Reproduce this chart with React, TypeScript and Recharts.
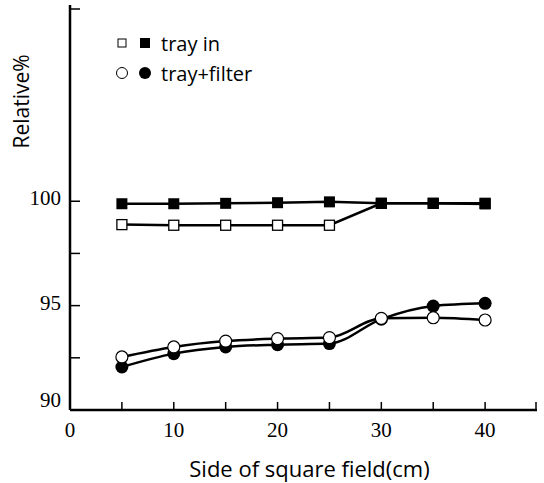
import React from "react"
import { LineChart, Line, XAxis, YAxis } from "recharts"

const sides = [5, 10, 15, 20, 25, 30, 35, 40]
const trayInOpen = [98.88, 98.85, 98.85, 98.85, 98.85, 99.9, 99.9, 99.9]
const trayInFilled = [99.88, 99.88, 99.9, 99.93, 99.97, 99.9, 99.9, 99.87]
const filterOpen = [92.54, 93.02, 93.3, 93.42, 93.47, 94.39, 94.42, 94.31]
const filterFilled = [92.06, 92.7, 93.02, 93.13, 93.18, 94.35, 94.98, 95.11]

const xTicks = [0, 5, 10, 15, 20, 25, 30, 35, 40, 45]
const xLabels = [0, 10, 20, 30, 40]
const yTicks = [90, 92.5, 95, 97.5, 100, 109.4]
const yLabels = [90, 95, 100]

const legendItems = ["tray in", "tray+filter"]

const data = sides.map((side, i) => ({
  side,
  trayInOpen: trayInOpen[i],
  trayInFilled: trayInFilled[i],
  filterOpen: filterOpen[i],
  filterFilled: filterFilled[i],
}))

const SANS = "'Open Sans', sans-serif"
const SERIF = "'Liberation Serif', serif"

function XTick({ x, y, payload }: any) {
  const v = payload.value
  return (
    <g>
      {v !== 0 && <line x1={x} y1={y} x2={x} y2={y - 8} stroke="#000" strokeWidth={1.5} />}
      {xLabels.includes(v) && (
        <text x={x} y={y + 27} textAnchor="middle" fontFamily={SERIF} fontSize={21} fill="#000">
          {v}
        </text>
      )}
    </g>
  )
}

function YTick({ x, y, payload }: any) {
  const v = payload.value
  return (
    <g>
      {v !== 90 && <line x1={x} y1={y} x2={x + 10} y2={y} stroke="#000" strokeWidth={1.5} />}
      {yLabels.includes(v) && (
        <text x={x - 9} y={v === 90 ? y - 3 : y + 4} textAnchor="end" fontFamily={SERIF} fontSize={21} fill="#000">
          {v}
        </text>
      )}
    </g>
  )
}

const square = (filled: boolean) => (props: any) => {
  const { cx, cy, index } = props
  const s = filled ? 11 : 10
  return (
    <rect
      key={`sq-${filled}-${index}`}
      x={cx - s / 2}
      y={cy - s / 2}
      width={s}
      height={s}
      fill={filled ? "#000" : "#fff"}
      stroke="#000"
      strokeWidth={filled ? 0 : 1.3}
    />
  )
}

const circle = (filled: boolean) => (props: any) => {
  const { cx, cy, index } = props
  return (
    <circle
      key={`ci-${filled}-${index}`}
      cx={cx}
      cy={cy}
      r={filled ? 6.5 : 6}
      fill={filled ? "#000" : "#fff"}
      stroke="#000"
      strokeWidth={filled ? 0 : 1.2}
    />
  )
}

// legend drawn as an overlay so it takes no room from the plot
function LegendBox() {
  const row = (icons: React.ReactNode, label: string, top: number) => (
    <div style={{ position: "absolute", left: 112, top, display: "flex", alignItems: "center", height: 30 }}>
      <svg width={46} height={20}>{icons}</svg>
      <span style={{ fontFamily: SANS, fontSize: 20, color: "#000", marginLeft: 3, whiteSpace: "pre" }}>{label}</span>
    </div>
  )
  return (
    <>
      {row(
        <>
          <rect x={6} y={6} width={8} height={8} fill="#fff" stroke="#000" strokeWidth={1} />
          <rect x={28} y={5} width={10} height={10} fill="#000" />
        </>,
        legendItems[0],
        28
      )}
      {row(
        <>
          <circle cx={10} cy={10} r={5.5} fill="#fff" stroke="#000" strokeWidth={1} />
          <circle cx={33} cy={10} r={6} fill="#000" />
        </>,
        legendItems[1],
        58
      )}
    </>
  )
}

export default function App() {
  return (
    <div style={{ position: "absolute", left: 0, top: 0, width: 544, height: 483, background: "#fff" }}>
      <LineChart width={544} height={483} data={data} margin={{ top: 5, right: 7, bottom: 0, left: 0 }}>
        <XAxis
          dataKey="side"
          type="number"
          domain={[0, 45]}
          ticks={xTicks}
          tick={<XTick />}
          tickLine={false}
          tickSize={0}
          tickMargin={0}
          height={73}
          axisLine={{ stroke: "#000", strokeWidth: 2.5 }}
          label={{ value: "Side of square field(cm)", position: "insideBottom", offset: 6, dx: 6, fontFamily: SANS, fontSize: 22, fill: "#000" }}
        />
        <YAxis
          type="number"
          domain={[90, 109.4]}
          ticks={yTicks}
          tick={<YTick />}
          tickLine={false}
          tickSize={0}
          tickMargin={0}
          width={70}
          axisLine={{ stroke: "#000", strokeWidth: 2.5 }}
          label={{ value: "Relative%", angle: -90, position: "insideLeft", offset: 22, dy: -59, fontFamily: SANS, fontSize: 21, fill: "#000" }}
        />
        <Line type="linear" dataKey="trayInOpen" stroke="#000" strokeWidth={2.5} dot={square(false)} isAnimationActive={false} />
        <Line type="linear" dataKey="trayInFilled" stroke="#000" strokeWidth={2.5} dot={square(true)} isAnimationActive={false} />
        <Line type="monotone" dataKey="filterFilled" stroke="#000" strokeWidth={2.5} dot={circle(true)} isAnimationActive={false} />
        <Line type="monotone" dataKey="filterOpen" stroke="#000" strokeWidth={2.5} dot={circle(false)} isAnimationActive={false} />
      </LineChart>
      <LegendBox />
    </div>
  )
}
